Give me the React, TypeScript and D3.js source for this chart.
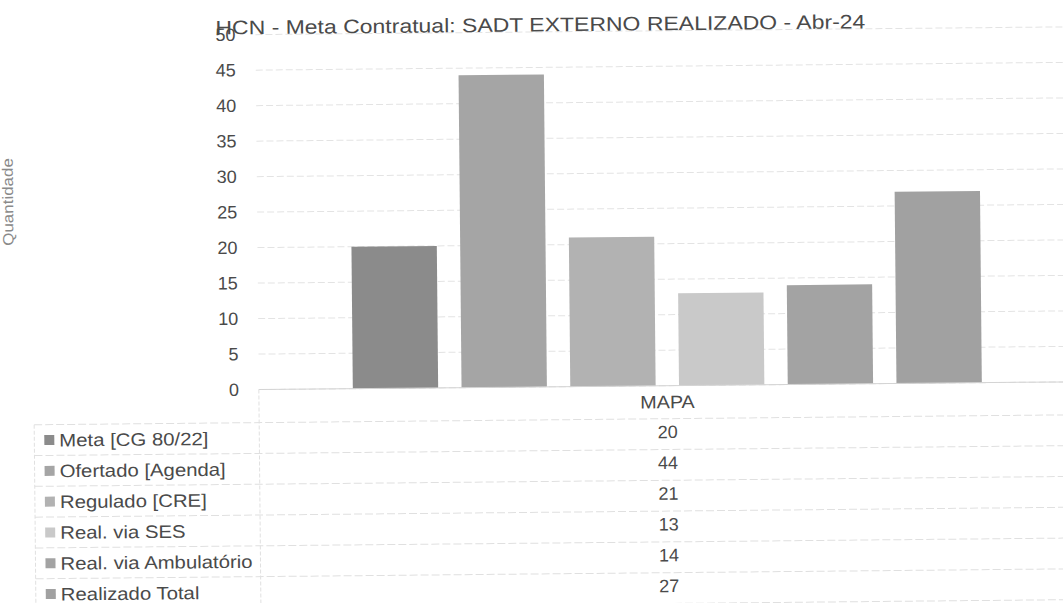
import React from "react";
import * as d3 from "d3";

const title = "HCN - Meta Contratual: SADT EXTERNO REALIZADO - Abr-24";
const yAxisTitle = "Quantidade";
const category = "MAPA";
const seriesNames = [
  "Meta [CG 80/22]",
  "Ofertado [Agenda]",
  "Regulado [CRE]",
  "Real. via SES",
  "Real. via Ambulatório",
  "Realizado Total",
];
const seriesValues = [20, 44, 21, 13, 14, 27];
const seriesColors = ["#8b8b8b", "#a5a5a5", "#b2b2b2", "#c9c9c9", "#a3a3a3", "#a1a1a1"];
const yTicks = [0, 5, 10, 15, 20, 25, 30, 35, 40, 45, 50];

const W = 1063;
const H = 603;
const plotLeft = 258;
const plotRight = 1075;
const plotTop = 32;
const plotBottom = 387;
const tableTop = 420;
const rowH = 30.8;
const tableLeft = 33;
const stretch = 1.13;

export default function App() {
  const y = d3.scaleLinear().domain([0, 50]).range([plotBottom, plotTop]);
  const x0 = d3.scaleBand().domain([category]).range([plotLeft, plotRight]).paddingOuter(0.1494);
  const x1 = d3.scaleBand().domain(seriesNames).range([0, x0.bandwidth()]).paddingInner(0.215).paddingOuter(0);
  const font = "Liberation Sans, Arial, sans-serif";
  const cx = (x0(category) as number) + x0.bandwidth() / 2;
  const ink = "#4a4a4a";
  return (
    <svg width={W} height={H} style={{ position: "absolute", left: 0, top: 0, background: "#fff" }} fontFamily={font}>
      <rect x={0} y={0} width={W} height={H} fill="#fff" />
      <g transform="rotate(-0.55 531 301)">
        {yTicks.map((t) => (
          <line key={"g" + t} x1={plotLeft} x2={W + 20} y1={y(t)} y2={y(t)} stroke="#e3e3e3" strokeWidth={1} strokeDasharray="7 3" />
        ))}
        {yTicks.map((t) => (
          <text key={"t" + t} x={238} y={y(t) + 6} textAnchor="end" fontSize={18} fill={ink}>
            {t}
          </text>
        ))}
        <text
          transform={`translate(14,197) rotate(-90) scale(${stretch},1)`}
          textAnchor="middle"
          fontSize={15}
          fill="#8a8a8a"
        >
          {yAxisTitle}
        </text>
        <text x={218} y={31.5} fontSize={19.5} fill={ink} textLength={650} lengthAdjust="spacingAndGlyphs">
          {title}
        </text>
        {seriesNames.map((s, i) => (
          <rect
            key={s}
            x={(x0(category) as number) + (x1(s) as number)}
            y={y(seriesValues[i])}
            width={x1.bandwidth()}
            height={plotBottom - y(seriesValues[i])}
            fill={seriesColors[i]}
          />
        ))}
        <line x1={plotLeft} x2={W + 20} y1={plotBottom} y2={plotBottom} stroke="#d4d4d4" />
        <text x={cx} y={409.5} textAnchor="middle" fontSize={18} fill={ink} transform={`translate(${cx * (1 - 1.1)},0) scale(1.1,1)`}>
          {category}
        </text>
        {/* data table */}
        <line x1={plotLeft} x2={plotLeft} y1={plotBottom} y2={H + 20} stroke="#e0e0e0" strokeDasharray="4 2" />
        <line x1={tableLeft} x2={tableLeft} y1={tableTop} y2={H + 20} stroke="#e0e0e0" strokeDasharray="4 2" />
        {d3.range(seriesNames.length + 1).map((i) => (
          <line
            key={"r" + i}
            x1={tableLeft}
            x2={W + 20}
            y1={tableTop + i * rowH}
            y2={tableTop + i * rowH}
            stroke="#e0e0e0"
            strokeDasharray="8 3"
          />
        ))}
        {seriesNames.map((s, i) => {
          const c = tableTop + i * rowH + rowH / 2;
          return (
            <g key={"row" + s}>
              <rect x={43} y={c - 5} width={10} height={10} fill={seriesColors[i]} />
              <text
                x={0}
                y={0}
                fontSize={18}
                fill={ink}
                transform={`translate(58,${c + 6.5}) scale(${stretch},1)`}
              >
                {s}
              </text>
              <text x={cx} y={c + 4} textAnchor="middle" fontSize={18} fill={ink}>
                {seriesValues[i]}
              </text>
            </g>
          );
        })}
      </g>
    </svg>
  );
}
